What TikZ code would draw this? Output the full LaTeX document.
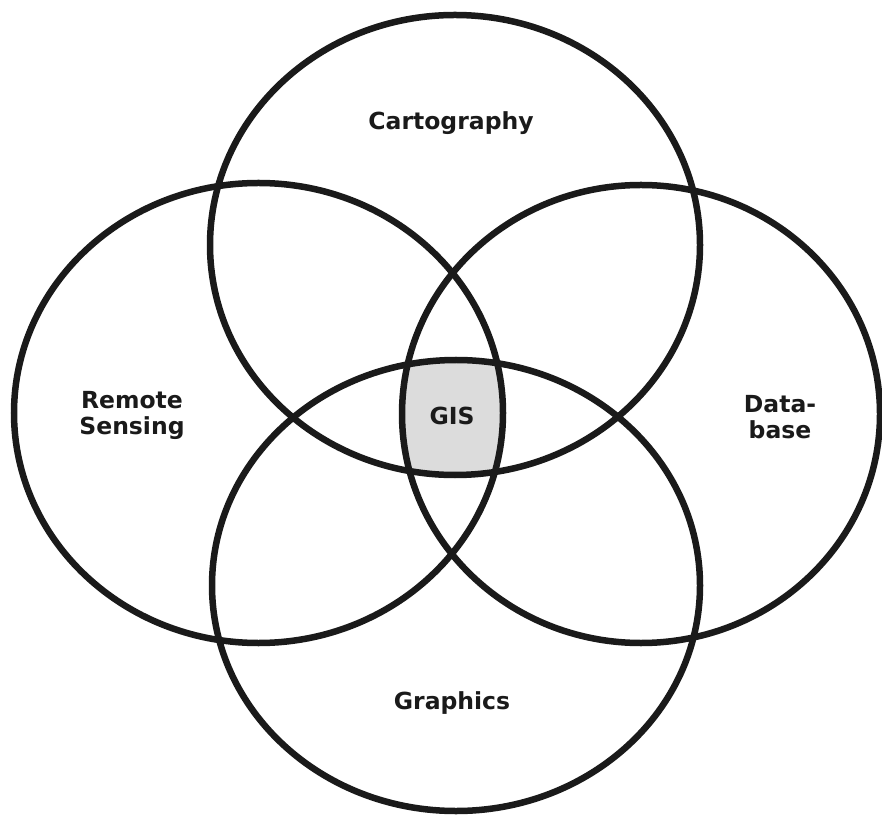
\documentclass[tikz,border=0pt]{standalone}
\usepackage{fontspec}
\setmainfont{DejaVu Sans}
\definecolor{ink}{HTML}{1A1A1A}
\definecolor{gisfill}{HTML}{DCDCDC}
\begin{document}
\begin{tikzpicture}[x=1pt,y=1pt,
  ring/.style={draw=ink,line width=6.5pt},
  lbl/.style={text=ink,font=\fontsize{23.5}{26}\selectfont\bfseries,align=center,inner sep=0pt}]
\useasboundingbox (0,0) rectangle (882,817);
% GIS intersection fill
\begin{scope}
  \clip (455,572) ellipse [x radius=245,y radius=230];
  \clip (258.5,404) ellipse [x radius=244.5,y radius=230];
  \clip (641,403) ellipse [x radius=239,y radius=229];
  \fill[gisfill] (456,231.5) ellipse [x radius=244,y radius=225.5];
\end{scope}
\draw[ring] (455,572) ellipse [x radius=245,y radius=230];
\draw[ring] (258.5,404) ellipse [x radius=244.5,y radius=230];
\draw[ring] (641,403) ellipse [x radius=239,y radius=229];
\draw[ring] (456,231.5) ellipse [x radius=244,y radius=225.5];
\node[lbl] (carto) at (451,694) {Cartography};
\node[lbl] (remote) at (132,402) {Remote\\Sensing};
\node[lbl] (db) at (780,400) {Data-\\base};
\node[lbl] (gis) at (452,401) {GIS};
\node[lbl] (graph) at (452,114) {Graphics};
\end{tikzpicture}
\end{document}
